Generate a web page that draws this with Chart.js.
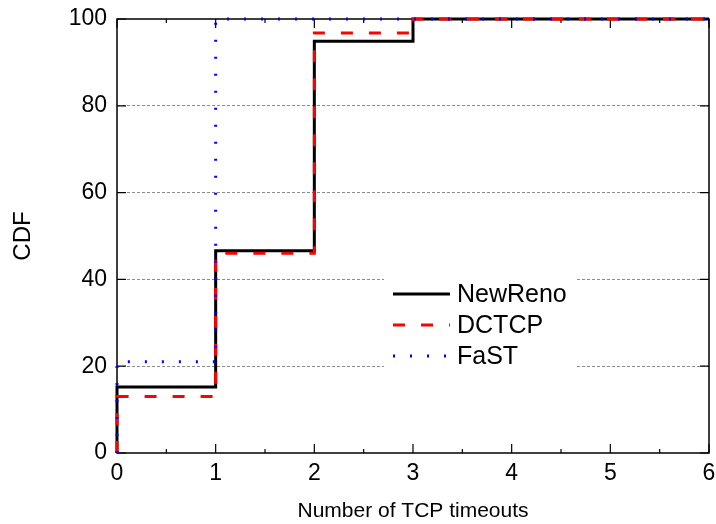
<!DOCTYPE html>
<html>
<head>
<meta charset="utf-8">
<script src="https://cdn.jsdelivr.net/npm/chart.js@4/dist/chart.umd.min.js"></script>
<style>
  html, body { margin: 0; padding: 0; background: #fff; }
  #wrap { width: 716px; height: 524px; position: relative; }
</style>
</head>
<body>
<div id="wrap"><canvas id="c" width="716" height="524"></canvas></div>
<script>
// ---- Data ----
const seriesNames = ['NewReno', 'DCTCP', 'FaST'];
const newRenoX = [0, 0, 1, 2, 3, 6];
const newRenoY = [0, 15.2, 46.6, 94.9, 100, 100];
const dctcpX   = [0, 0, 1, 2, 3, 6];
const dctcpY   = [0, 13.0, 46.0, 96.8, 100, 100];
const fastX    = [0, 0, 1, 6];
const fastY    = [0, 21.0, 100, 100];
const xTicks = [0, 1, 2, 3, 4, 5, 6];
const yTicks = [0, 20, 40, 60, 80, 100];
const xTitle = 'Number of TCP timeouts';
const yTitle = 'CDF';

const FONT = "Arial, 'Liberation Sans', Helvetica, sans-serif";

function pts(xs, ys) { return xs.map((x, i) => ({ x: x, y: ys[i] })); }
function noPad(s) { s.paddingTop = 0; s.paddingBottom = 0; s.paddingLeft = 0; s.paddingRight = 0; }

// Frame + inward ticks (drawn under the data lines)
const framePlugin = {
  id: 'frame',
  beforeDatasetsDraw(chart) {
    const { ctx, chartArea: a, scales } = chart;
    const xs = scales.x, ys = scales.y;
    ctx.save();
    ctx.strokeStyle = '#000';
    ctx.lineWidth = 1.5;
    ctx.strokeRect(a.left, a.top, a.right - a.left, a.bottom - a.top);
    ctx.lineWidth = 1.2;
    ctx.beginPath();
    const L = 9, Lm = 4;
    xTicks.forEach(v => {
      const px = xs.getPixelForValue(v);
      ctx.moveTo(px, a.bottom); ctx.lineTo(px, a.bottom - L);
      ctx.moveTo(px, a.top); ctx.lineTo(px, a.top + L);
    });
    for (let i = 0; i < xTicks.length - 1; i++) {
      const px = xs.getPixelForValue((xTicks[i] + xTicks[i + 1]) / 2);
      ctx.moveTo(px, a.bottom); ctx.lineTo(px, a.bottom - Lm);
      ctx.moveTo(px, a.top); ctx.lineTo(px, a.top + Lm);
    }
    yTicks.forEach(v => {
      const py = ys.getPixelForValue(v);
      ctx.moveTo(a.left, py); ctx.lineTo(a.left + L, py);
      ctx.moveTo(a.right, py); ctx.lineTo(a.right - L, py);
    });
    ctx.stroke();

    // legend background box (hides grid lines behind legend)
    ctx.fillStyle = '#fff';
    ctx.fillRect(384, 271, 193, 108);
    ctx.restore();
  }
};

// In-plot legend built from dataset styles
const legendPlugin = {
  id: 'inLegend',
  afterDatasetsDraw(chart) {
    const { ctx } = chart;
    const rows = [294, 325, 356];
    ctx.save();
    chart.data.datasets.forEach((ds, i) => {
      const y = rows[i];
      ctx.beginPath();
      ctx.strokeStyle = ds.borderColor;
      ctx.lineWidth = ds.borderWidth;
      ctx.setLineDash(ds.borderDash || []);
      ctx.moveTo(393, y); ctx.lineTo(450, y);
      ctx.stroke();
      ctx.setLineDash([]);
      ctx.fillStyle = '#000';
      ctx.font = '25px ' + FONT;
      ctx.textBaseline = 'middle';
      ctx.textAlign = 'left';
      ctx.fillText(ds.label, 457, y + 1);
    });
    ctx.restore();
  }
};

new Chart(document.getElementById('c'), {
  type: 'line',
  data: {
    datasets: [
      { label: seriesNames[0], data: pts(newRenoX, newRenoY), borderColor: '#000000', borderWidth: 3,
        stepped: 'before', pointRadius: 0, fill: false, clip: false, order: 3 },
      { label: seriesNames[1], data: pts(dctcpX, dctcpY), borderColor: '#ff0000', borderWidth: 3,
        borderDash: [12, 16], stepped: 'before', pointRadius: 0, fill: false, clip: false, order: 2 },
      { label: seriesNames[2], data: pts(fastX, fastY), borderColor: '#0000ff', borderWidth: 3,
        borderDash: [2, 15], stepped: 'before', pointRadius: 0, fill: false, clip: false, order: 1 }
    ]
  },
  options: {
    responsive: false,
    animation: false,
    devicePixelRatio: 1,
    layout: { padding: { top: 19, right: 7, left: 0, bottom: 0 } },
    plugins: { legend: { display: false }, tooltip: { enabled: false } },
    elements: { line: { borderCapStyle: 'butt', tension: 0 } },
    scales: {
      x: {
        type: 'linear', min: 0, max: 6,
        afterBuildTicks: s => { s.ticks = xTicks.map(v => ({ value: v })); },
        afterFit: s => { s.height = 71; noPad(s); },
        grid: { display: false, drawTicks: false },
        border: { display: false },
        ticks: { color: '#000', font: { size: 23, family: FONT }, padding: 7, maxRotation: 0 },
        title: { display: true, text: xTitle, color: '#000', font: { size: 21, family: FONT }, padding: { top: 0, bottom: 0 } }
      },
      y: {
        type: 'linear', min: 0, max: 100,
        afterBuildTicks: s => { s.ticks = yTicks.map(v => ({ value: v })); },
        afterFit: s => { s.width = 117; noPad(s); },
        grid: {
          drawTicks: false,
          color: c => (c.tick && (c.tick.value === 0 || c.tick.value === 100)) ? 'rgba(0,0,0,0)' : '#8c8c8c',
          lineWidth: 1
        },
        border: { display: false, dash: [3, 2] },
        ticks: { color: '#000', font: { size: 23, family: FONT }, padding: 10 },
        title: { display: true, text: yTitle, color: '#000', font: { size: 24, family: FONT }, padding: { top: 9, bottom: 0 } }
      }
    }
  },
  plugins: [framePlugin, legendPlugin]
});
</script>
</body>
</html>
